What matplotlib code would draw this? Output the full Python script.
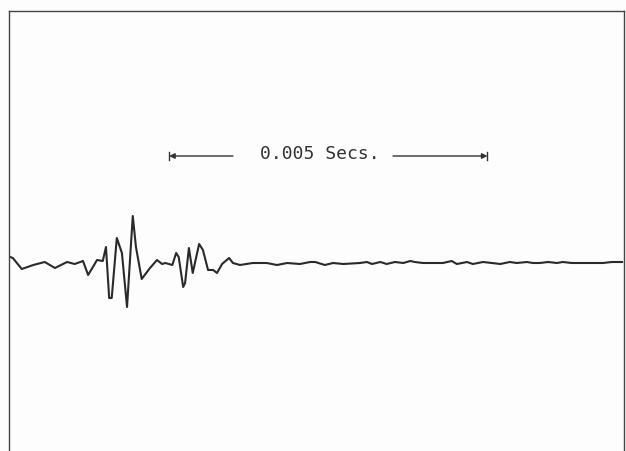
import matplotlib
matplotlib.use("Agg")
import matplotlib.pyplot as plt

# -----------------------------
# Data (time in ms, amplitude in arbitrary units)
# -----------------------------
time_ms = [0.02, 0.06, 0.20, 0.38, 0.56, 0.72, 0.91, 1.03, 1.16, 1.24,
           1.38, 1.47, 1.52, 1.57, 1.61, 1.69, 1.77, 1.85, 1.94, 1.99,
           2.08, 2.21, 2.32, 2.40, 2.45, 2.56, 2.62, 2.66, 2.73, 2.76,
           2.82, 2.88, 2.98, 3.04, 3.12, 3.20, 3.26, 3.34, 3.45, 3.51,
           3.62, 3.82, 4.04, 4.20, 4.36, 4.56, 4.72, 4.80, 4.95, 5.08,
           5.24, 5.50, 5.61, 5.69, 5.82, 5.92, 6.05, 6.18, 6.29, 6.36,
           6.49, 6.65, 6.80, 6.94, 7.02, 7.18, 7.27, 7.43, 7.57, 7.70,
           7.85, 7.96, 8.12, 8.21, 8.32, 8.45, 8.59, 8.68, 8.82, 9.00,
           9.15, 9.31, 9.45, 9.61]
amplitude = [6, 5, -6, -2, 1, -5, 1, -1, 2, -12,
             3, 2, 16, -35, -35, 25, 10, -44, 47, 16,
             -16, -5, 3, -1, 0, -2, 10, 6, -24, -20,
             15, -10, 19, 13, -7, -7, -10, -1, 5, 0,
             -2, 0, 0, -2, 0, -1, 1, 1, -2, 0,
             -1, 0, 1, -1, 1, -1, 1, 0, 2, 1,
             0, 0, 0, 2, -1, 1, -1, 1, 0, -1,
             1, 0, 1, 0, 0, 1, 0, 1, 0, 0,
             0, 0, 1, 1]

scale_start_ms = 2.51
scale_end_ms = 7.50
scale_label = "0.005 Secs."

# -----------------------------
# Plot
# -----------------------------
fig = plt.figure(figsize=(6.26, 4.51), dpi=100)
fig.patch.set_facecolor("#fdfdfd")
ax = fig.add_axes([9 / 626, 0, 615 / 626, 440 / 451])
ax.set_facecolor("#fdfdfd")

ax.plot(time_ms, amplitude, color="#2a2a2a", linewidth=1.5,
        solid_joinstyle="round")

ax.set_xlim(0, 9.64)
ax.set_ylim(-188, 252)
ax.set_xticks([])
ax.set_yticks([])
for side in ["left", "top", "right"]:
    ax.spines[side].set_color("#444444")
    ax.spines[side].set_linewidth(1.0)
ax.spines["bottom"].set_visible(False)

# scale bar
bar_y = 107
ax.annotate("", xy=(scale_start_ms, bar_y), xytext=(3.51, bar_y),
            arrowprops=dict(arrowstyle="-|>", color="#333333", lw=1.0,
                            mutation_scale=8, shrinkA=0, shrinkB=0))
ax.annotate("", xy=(scale_end_ms, bar_y), xytext=(6.02, bar_y),
            arrowprops=dict(arrowstyle="-|>", color="#333333", lw=1.0,
                            mutation_scale=8, shrinkA=0, shrinkB=0))
ax.plot([scale_start_ms, scale_start_ms], [bar_y - 4, bar_y + 4], color="#333333", lw=1.0)
ax.plot([scale_end_ms, scale_end_ms], [bar_y - 4, bar_y + 4], color="#333333", lw=1.0)
ax.text((scale_start_ms + scale_end_ms) / 2 - 0.13, bar_y + 2, scale_label,
        ha="center", va="center", fontsize=13, color="#333333",
        family="DejaVu Sans Mono")

fig.savefig("out.png", dpi=100, facecolor=fig.get_facecolor())
